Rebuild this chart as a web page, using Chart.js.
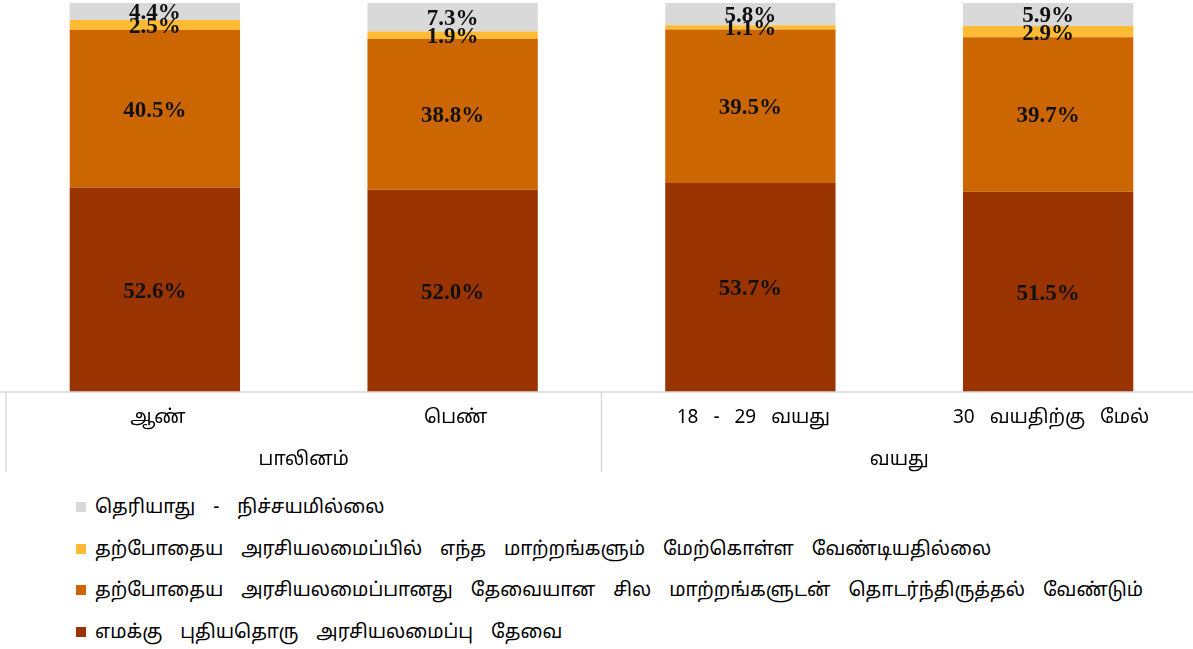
<!DOCTYPE html>
<html>
<head>
<meta charset="utf-8">
<script src="https://cdn.jsdelivr.net/npm/chart.js@4.4.1/dist/chart.umd.min.js"></script>
<style>
  html, body { margin: 0; padding: 0; background: #fff; overflow: hidden; }
  #wrap { position: absolute; left: 0; top: 0; width: 1197px; height: 480px; }
  #legend { position: absolute; left: 76px; top: 490px; font-family: Latha, 'Noto Sans Tamil', 'Noto Serif Tamil', serif; font-size: 19px; color: #000; }
  #legend div { height: 41.5px; line-height: 36px; white-space: nowrap; word-spacing: 13px; }
  #legend span.box { display: inline-block; width: 10px; height: 10px; margin-right: 9px; vertical-align: 1px; }
</style>
</head>
<body>
<div id="wrap"><canvas id="chart"></canvas></div>
<div id="legend"></div>
<script>
const categories = ['ஆண்', 'பெண்', '18 - 29 வயது', '30 வயதிற்கு மேல்'];
const groups = ['பாலினம்', 'வயது'];
const groupSizes = [2, 2];

const seriesNames = [
  'எமக்கு புதியதொரு அரசியலமைப்பு தேவை',
  'தற்போதைய அரசியலமைப்பானது தேவையான சில மாற்றங்களுடன் தொடர்ந்திருத்தல் வேண்டும்',
  'தற்போதைய அரசியலமைப்பில் எந்த மாற்றங்களும் மேற்கொள்ள வேண்டியதில்லை',
  'தெரியாது - நிச்சயமில்லை'
];
const newConstitution = [52.6, 52.0, 53.7, 51.5];
const someChanges = [40.5, 38.8, 39.5, 39.7];
const noChanges = [2.5, 1.9, 1.1, 2.9];
const dontKnow = [4.4, 7.3, 5.8, 5.9];
const seriesColors = ['#993300', '#CC6600', '#FFBB33', '#D9D9D9'];

const tamilFont = "Latha, 'Noto Sans Tamil', 'Noto Serif Tamil', serif";

const valueLabels = {
  id: 'valueLabels',
  afterDatasetsDraw(chart) {
    const ctx = chart.ctx;
    ctx.save();
    ctx.font = 'bold 23px "Liberation Serif", "Times New Roman", serif';
    ctx.fillStyle = '#111';
    ctx.textAlign = 'center';
    ctx.textBaseline = 'middle';
    chart.data.datasets.forEach((ds, i) => {
      const meta = chart.getDatasetMeta(i);
      meta.data.forEach((bar, j) => {
        const mid = (bar.y + bar.base) / 2;
        ctx.fillText(ds.data[j].toFixed(1) + '%', bar.x, mid + 2);
      });
    });
    ctx.restore();
  }
};

const groupAxis = {
  id: 'groupAxis',
  afterDraw(chart) {
    const ctx = chart.ctx;
    const x = chart.scales.x;
    const bottom = chart.chartArea.bottom;
    const step = x.getPixelForValue(1) - x.getPixelForValue(0);
    ctx.save();
    ctx.strokeStyle = '#d9d9d9';
    ctx.lineWidth = 1.5;
    ctx.beginPath();
    ctx.moveTo(0, bottom);
    ctx.lineTo(chart.width, bottom);
    let idx = 0;
    const edges = [x.getPixelForValue(0) - step / 2];
    groupSizes.forEach((n) => {
      idx += n;
      edges.push(x.getPixelForValue(idx - 1) + step / 2);
    });
    edges.forEach((px) => {
      ctx.moveTo(px, bottom);
      ctx.lineTo(px, bottom + 80);
    });
    ctx.stroke();

    ctx.fillStyle = '#000';
    ctx.textAlign = 'center';
    ctx.textBaseline = 'middle';
    ctx.font = '19px ' + tamilFont;
    ctx.wordSpacing = '10px';
    categories.forEach((c, j) => {
      ctx.fillText(c, x.getPixelForValue(j) + 3, bottom + 27);
    });
    groups.forEach((g, k) => {
      const cx = (edges[k] + edges[k + 1]) / 2;
      ctx.fillText(g, cx, bottom + 69);
    });
    ctx.restore();
  }
};

const datasets = [newConstitution, someChanges, noChanges, dontKnow].map((data, i) => ({
  label: seriesNames[i],
  data,
  backgroundColor: seriesColors[i],
  borderWidth: 0,
  categoryPercentage: 1,
  barPercentage: 0.572
}));

const chart = new Chart(document.getElementById('chart').getContext('2d'), {
  type: 'bar',
  data: { labels: categories, datasets },
  plugins: [valueLabels, groupAxis],
  options: {
    responsive: true,
    maintainAspectRatio: false,
    animation: false,
    layout: { padding: { left: 6, right: 0, top: 3, bottom: 88 } },
    plugins: { legend: { display: false }, tooltip: { enabled: false } },
    scales: {
      x: { stacked: true, display: false },
      y: { stacked: true, display: false, min: 0, max: 100 }
    }
  }
});

const legend = document.getElementById('legend');
chart.data.datasets.slice().reverse().forEach((ds) => {
  const row = document.createElement('div');
  row.innerHTML = '<span class="box" style="background:' + ds.backgroundColor + '"></span>' + ds.label;
  legend.appendChild(row);
});
</script>
</body>
</html>
